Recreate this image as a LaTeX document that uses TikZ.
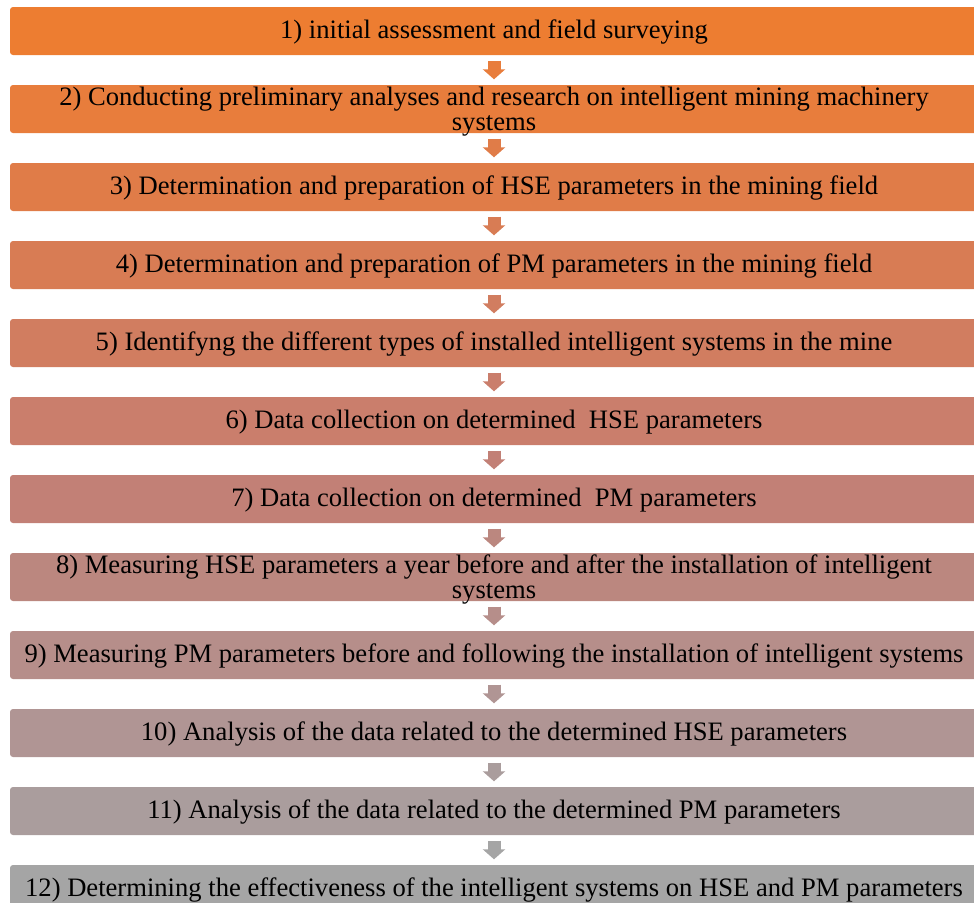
\documentclass[tikz,border=0pt]{standalone}
\usepackage{fontspec}
\setmainfont{Liberation Serif}
\usetikzlibrary{positioning,arrows.meta}

\definecolor{st1}{RGB}{237,125,49}
\definecolor{st2}{RGB}{232,125,60}
\definecolor{st3}{RGB}{224,124,72}
\definecolor{st4}{RGB}{216,124,84}
\definecolor{st5}{RGB}{209,125,96}
\definecolor{st6}{RGB}{202,126,108}
\definecolor{st7}{RGB}{194,128,118}
\definecolor{st8}{RGB}{187,135,127}
\definecolor{st9}{RGB}{182,142,138}
\definecolor{st10}{RGB}{176,149,148}
\definecolor{st11}{RGB}{170,157,157}
\definecolor{st12}{RGB}{165,165,165}

\begin{document}
\begin{tikzpicture}[
  font=\fontsize{26.6pt}{25pt}\selectfont,
  box/.style={rounded corners=3pt, minimum width=968pt, minimum height=48pt,
    inner xsep=0pt, inner ysep=0pt, align=center, text height=19pt, text depth=5pt},
  twoline/.style={text height=45pt, text depth=3pt},
  arr/.style={-{Triangle[width=22pt,length=10pt]}, line width=13pt,
    shorten <=5.5pt, shorten >=5.5pt},
]
  \useasboundingbox (0,0) rectangle (974pt,-902pt);
  \node[box, fill=st1] at (494pt,-31pt) (b1) {1) initial assessment and field surveying};
  \node[box, fill=st2, twoline, below=29.6pt of b1] (b2) {2) Conducting preliminary analyses and research on intelligent mining machinery\\systems};
  \node[box, fill=st3, below=29.6pt of b2] (b3) {3) Determination and preparation of HSE parameters in the mining field};
  \node[box, fill=st4, below=29.6pt of b3] (b4) {4) Determination and preparation of PM parameters in the mining field};
  \node[box, fill=st5, below=29.6pt of b4] (b5) {5) Identifyng the different types of installed intelligent systems in the mine};
  \node[box, fill=st6, below=29.6pt of b5] (b6) {6) Data collection on determined\ \ HSE parameters};
  \node[box, fill=st7, below=29.6pt of b6] (b7) {7) Data collection on determined\ \ PM parameters};
  \node[box, fill=st8, twoline, below=29.6pt of b7] (b8) {8) Measuring HSE parameters a year before and after the installation of intelligent\\systems};
  \node[box, fill=st9, below=29.6pt of b8] (b9) {9) Measuring PM parameters before and following the installation of intelligent systems};
  \node[box, fill=st10, below=29.6pt of b9] (b10) {10) Analysis of the data related to the determined HSE parameters};
  \node[box, fill=st11, below=29.6pt of b10] (b11) {11) Analysis of the data related to the determined PM parameters};
  \node[box, fill=st12, below=29.6pt of b11] (b12) {12) Determining the effectiveness of the intelligent systems on HSE and PM parameters};
  \draw[arr, st2] (b1) -- (b2);
  \draw[arr, st3] (b2) -- (b3);
  \draw[arr, st4] (b3) -- (b4);
  \draw[arr, st5] (b4) -- (b5);
  \draw[arr, st6] (b5) -- (b6);
  \draw[arr, st7] (b6) -- (b7);
  \draw[arr, st8] (b7) -- (b8);
  \draw[arr, st9] (b8) -- (b9);
  \draw[arr, st10] (b9) -- (b10);
  \draw[arr, st11] (b10) -- (b11);
  \draw[arr, st12] (b11) -- (b12);
\end{tikzpicture}
\end{document}
